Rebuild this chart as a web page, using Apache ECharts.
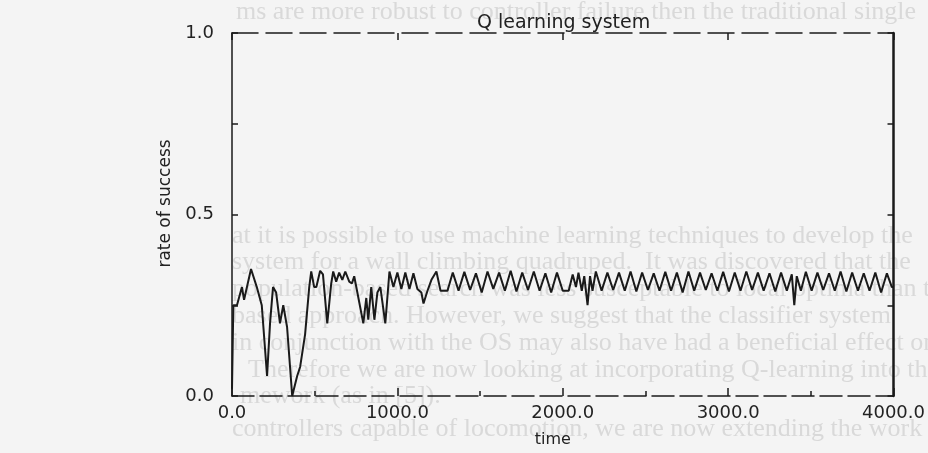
<!DOCTYPE html>
<html>
<head>
<meta charset="utf-8">
<script src="https://cdn.jsdelivr.net/npm/echarts@6/dist/echarts.min.js"></script>
<style>
  html, body { margin: 0; padding: 0; background: #f4f4f4; }
  #main { width: 928px; height: 453px; }
</style>
</head>
<body>
<div id="main"></div>
<script>
// time steps
var times = [
  0, 8, 30, 60, 73, 115, 150, 180, 212, 230,
  248, 267, 290, 310, 333, 364, 394, 412, 442, 467,
  479, 497, 510, 533, 550, 576, 600, 612, 630, 648,
  667, 685, 709, 725, 739, 758, 794, 812, 824, 842,
  861, 879, 897, 927, 952, 976, 1000, 1024, 1048, 1073,
  1097, 1121, 1145, 1158, 1182, 1206, 1236, 1261, 1303,
  1335, 1370, 1405, 1440, 1475, 1510, 1545, 1580, 1615, 1650,
  1685, 1720, 1755, 1790, 1825, 1860, 1895, 1930, 1965, 2000,
  2036, 2060, 2080, 2095, 2115, 2130, 2150, 2165, 2180, 2200,
  2235, 2270, 2305, 2340, 2375, 2410, 2445, 2480, 2515, 2550,
  2585, 2620, 2655, 2690, 2725, 2760, 2795, 2830, 2865, 2900,
  2935, 2970, 3005, 3040, 3075, 3110, 3145, 3180, 3215, 3250,
  3285, 3320, 3355, 3385, 3400, 3415, 3440, 3470, 3505, 3540,
  3575, 3610, 3645, 3680, 3715, 3750, 3785, 3820, 3855, 3890,
  3925, 3960, 3990, 4000
];
// rate of success at each time step
var rates = [
  0.02, 0.25, 0.25, 0.30, 0.265, 0.35, 0.30, 0.25, 0.055, 0.20,
  0.30, 0.285, 0.20, 0.25, 0.19, 0.00, 0.055, 0.08, 0.17, 0.30,
  0.343, 0.30, 0.30, 0.345, 0.335, 0.20, 0.31, 0.343, 0.315, 0.34,
  0.32, 0.343, 0.315, 0.31, 0.33, 0.285, 0.20, 0.27, 0.21, 0.30,
  0.21, 0.285, 0.30, 0.20, 0.343, 0.30, 0.34, 0.295, 0.34, 0.295,
  0.338, 0.295, 0.285, 0.255, 0.29, 0.32, 0.343, 0.29, 0.29,
  0.34, 0.29, 0.342, 0.292, 0.338, 0.285, 0.343, 0.295, 0.34, 0.29,
  0.345, 0.288, 0.34, 0.292, 0.343, 0.29, 0.338, 0.285, 0.34, 0.29,
  0.29, 0.335, 0.30, 0.34, 0.29, 0.33, 0.25, 0.33, 0.29, 0.343,
  0.29, 0.34, 0.292, 0.34, 0.29, 0.343, 0.288, 0.34, 0.292, 0.338,
  0.29, 0.342, 0.29, 0.34, 0.285, 0.343, 0.29, 0.34, 0.292, 0.338,
  0.29, 0.342, 0.288, 0.34, 0.29, 0.343, 0.292, 0.34, 0.29, 0.338,
  0.288, 0.34, 0.29, 0.335, 0.25, 0.33, 0.29, 0.342, 0.29, 0.34,
  0.292, 0.338, 0.29, 0.343, 0.288, 0.34, 0.29, 0.338, 0.29, 0.34,
  0.285, 0.338, 0.30, 0.30
];
// faded page text showing through the scan
var pageLines = [
  'ms are more robust to controller failure then the traditional single',
  'at it is possible to use machine learning techniques to develop the',
  'system for a wall climbing quadruped.  It was discovered that the',
  'population-based search was less susceptable to local optima than the',
  'based approach. However, we suggest that the classifier system',
  'in conjunction with the OS may also have had a beneficial effect on',
  'Therefore we are now looking at incorporating Q-learning into the',
  'mework (as in [5]).',
  'controllers capable of locomotion, we are now extending the work in a'
];
var pageLineY = [14, 238, 264, 291, 318, 345, 372, 398, 431];
var pageLineX = [236, 232, 232, 232, 232, 232, 248, 240, 232];

var points = times.map(function (t, i) { return [t, rates[i]]; });

var ink = '#1a1a1a';
var labelFont = { color: '#222', fontSize: 18, fontFamily: 'DejaVu Sans' };

var bgText = pageLines.map(function (s, i) {
  return {
    type: 'text', left: pageLineX[i], top: pageLineY[i] - 15, z: -10, silent: true,
    style: { text: s, fill: '#d9d9d9', font: '26px "Liberation Serif"' }
  };
});

var chart = echarts.init(document.getElementById('main'));
chart.setOption({
  animation: false,
  backgroundColor: '#f4f4f4',
  graphic: bgText,
  title: {
    text: 'Q learning system',
    left: 472, top: 9,
    textStyle: { color: '#222', fontSize: 19, fontWeight: 'normal', fontFamily: 'DejaVu Sans' }
  },
  grid: { left: 232, right: 33, top: 33, bottom: 49 },
  xAxis: [{
    type: 'value', min: 0, max: 4000, interval: 1000,
    name: 'time', nameLocation: 'middle', nameGap: 36,
    nameTextStyle: { color: '#222', fontSize: 16, fontFamily: 'DejaVu Sans', padding: [0, 20, 0, 0] },
    axisLine: { show: true, onZero: false, lineStyle: { color: ink, width: 1.5, type: [22, 6] } },
    axisTick: { inside: true, length: 8, lineStyle: { color: ink, width: 1.5 } },
    minorTick: { show: true, splitNumber: 2, length: 5, lineStyle: { color: ink, width: 1.5 } },
    axisLabel: Object.assign({ margin: 8, formatter: function (v) { return v.toFixed(1); } }, labelFont),
    splitLine: { show: false }
  }, {
    type: 'value', min: 0, max: 4000, interval: 1000, position: 'top',
    axisLine: { show: true, onZero: false, lineStyle: { color: ink, width: 1.5, type: [26, 8] } },
    axisTick: { inside: true, length: 7, lineStyle: { color: ink, width: 1.5 } },
    axisLabel: { show: false },
    splitLine: { show: false }
  }],
  yAxis: [{
    type: 'value', min: 0, max: 1, interval: 0.25,
    name: 'rate of success', nameLocation: 'middle', nameGap: 58, nameRotate: 90,
    nameTextStyle: { color: '#222', fontSize: 17, fontFamily: 'DejaVu Sans', padding: [0, 0, 0, 22] },
    axisLine: { show: true, onZero: false, lineStyle: { color: ink, width: 1.5 } },
    axisTick: { inside: true, length: 6, lineStyle: { color: ink, width: 1.5 } },
    axisLabel: Object.assign({ margin: 18, formatter: function (v) {
      return (Math.round(v * 100) % 50 === 0) ? v.toFixed(1) : '';
    } }, labelFont),
    splitLine: { show: false }
  }, {
    type: 'value', min: 0, max: 1, interval: 0.25, position: 'right',
    axisLine: { show: true, onZero: false, lineStyle: { color: ink, width: 2.5 } },
    axisTick: { inside: true, length: 6, lineStyle: { color: ink, width: 1.5 } },
    axisLabel: { show: false },
    splitLine: { show: false }
  }],
  series: [{
    type: 'line',
    data: points,
    showSymbol: false,
    lineStyle: { color: ink, width: 2 }
  }]
});
</script>
</body>
</html>
